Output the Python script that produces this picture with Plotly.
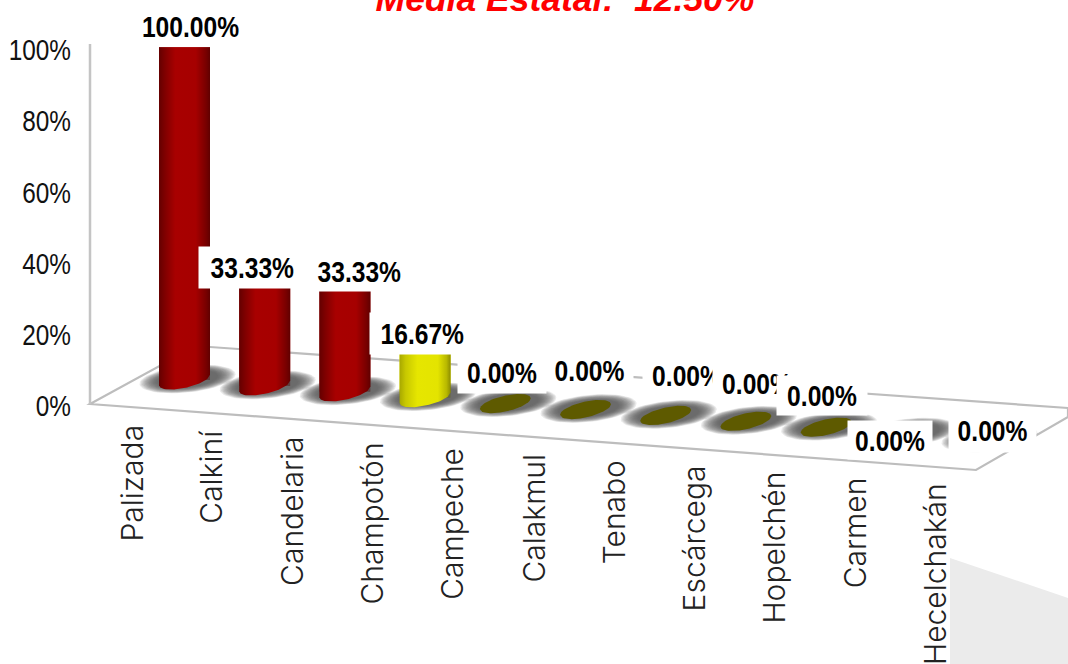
import numpy as np
import plotly.graph_objects as go

# ---- data ----
categories = ["Palizada", "Calkiní", "Candelaria", "Champotón", "Campeche", "Calakmul",
              "Tenabo", "Escárcega", "Hopelchén", "Carmen", "Hecelchakán"]
values = [100.0, 33.33, 33.33, 16.67, 0, 0, 0, 0, 0, 0, 0]
y_ticks = [0, 20, 40, 60, 80, 100]
title_text = "<b><i>Media Estatal:  12.50%</i></b>"

# ---- styles and layout (separate from data) ----
W, H = 1068, 664
SANS = "Liberation Sans, Arial, sans-serif"
X0_PX, X_STEP = 184.5, 80.2     # pixel of first category, pixels per category
Y0_PX, Y_STEP = 406.0, 3.56     # pixel of 0 %, pixels per percent
FLOOR0_PX, FLOOR_STEP = 380.0, 5.9   # perspective drop of the chart floor
BAR_SCALE = 0.935               # bars are foreshortened against the back wall scale
A_PX, B_PX, TILT = 25.5, 8.0, 0.21
LEFT = 90

ramps = {
    "red": [[0, "#640000"], [0.12, "#800000"], [0.32, "#a80000"], [0.72, "#a60000"], [0.92, "#780000"], [1, "#600000"]],
    "yellow": [[0, "#a8a800"], [0.12, "#c8c800"], [0.35, "#e6e600"], [0.75, "#e4e400"], [0.92, "#b8b800"], [1, "#8c8c00"]],
}
OLIVE = "#5e5a00"
# label boxes: left, right, top, bottom, alignment (pixels of the white label backgrounds)
label_boxes = [
    (140, 241, 8, 45, "center"), (199, 294, 247, 288, "right"), (301, 401, 251, 291, "right"),
    (370, 464, 313, 354, "right"), (458, 546, 352, 393, "center"), (546, 633, 350, 390, "center"),
    (643, 731, 355, 395, "center"), (713, 801, 363, 403, "center"), (777, 867, 376, 415, "center"),
    (848, 932, 421, 459, "center"), (949, 1036, 408, 452, "center"),
]

def dx(px):
    return (px - X0_PX) / X_STEP

def dy(px):
    return (Y0_PX - px) / Y_STEP

def floor_px(i):
    return FLOOR0_PX + FLOOR_STEP * i

def pth(points):
    return "M" + " L".join(f"{(x-LEFT)/(W-LEFT):.5f},{1-y/H:.5f}" for x, y in points) + " Z"

def paper_shape(points, **kw):
    return dict(type="path", xref="paper", yref="paper", path=pth(points), layer="below", **kw)

fig = go.Figure()

# blurred floor shadows
t = np.linspace(0, 2 * np.pi, 60)
for i in range(len(categories)):
    for k in range(14):
        a = 48 - k * 1.35
        b = 13.5 - k * 0.4
        xs = i + (a * np.cos(t) + 3) / X_STEP
        ys = dy(floor_px(i) - 1 + b * np.sin(t) - 0.1 * a * np.cos(t))
        fig.add_trace(go.Scatter(x=xs, y=ys, mode="lines", fill="toself", line_width=0,
                                 fillcolor="rgba(85,85,85,0.12)", hoverinfo="skip", showlegend=False))

# the bars themselves
bar_colors = ["#a80000" if v > 20 else "#e6e600" if v > 0 else OLIVE for v in values]
fig.add_trace(go.Bar(x=list(range(len(values))),
                     y=[v * BAR_SCALE for v in values],
                     base=[dy(floor_px(i)) for i in range(len(values))],
                     width=2 * A_PX / X_STEP,
                     marker=dict(color=bar_colors, line_width=0),
                     customdata=values, hovertext=categories,
                     hovertemplate="%{hovertext}: %{customdata:.2f}%<extra></extra>",
                     showlegend=False))

# cylinder shading and round feet
u = np.linspace(-1, 1, 41)
for i, v in enumerate(values):
    foot = dy(floor_px(i) + B_PX * np.sqrt(1 - u ** 2) - TILT * A_PX * u)
    xs = i + u * A_PX / X_STEP
    if v > 0:
        top = dy(floor_px(i)) + v * BAR_SCALE
        px = np.r_[xs[0], xs[-1], xs[::-1]]
        py = np.r_[top, top, foot[::-1]]
        fig.add_trace(go.Scatter(x=px, y=py, mode="lines", fill="toself", line_width=0,
                                 fillgradient=dict(type="horizontal",
                                                   colorscale=ramps["red" if v > 20 else "yellow"]),
                                 hoverinfo="skip", showlegend=False))
    else:
        upper = dy(floor_px(i) - B_PX * np.sqrt(1 - u ** 2) - TILT * A_PX * u)
        fig.add_trace(go.Scatter(x=np.r_[xs, xs[::-1]], y=np.r_[foot, upper[::-1]], mode="lines",
                                 fill="toself", line_width=0, fillcolor=OLIVE,
                                 hoverinfo="skip", showlegend=False))

annotations = []
# category labels following the front edge of the floor
for i, name in enumerate(categories):
    annotations.append(dict(x=dx(131 + 80.4 * i), y=dy(423 + 5.8 * i), xref="x", yref="y", text=name,
                            textangle=-90, xanchor="center", yanchor="top", showarrow=False,
                            font=dict(family="Inter, Lato, sans-serif", size=30, weight=300, color="#222222")))
# value labels with their white boxes
for v, (l, r, tp, bt, al) in zip(values, label_boxes):
    annotations.append(dict(x=dx((l + r) / 2), y=dy((tp + bt) / 2), xref="x", yref="y",
                            text=f"{v:.2f}%", width=r - l, height=bt - tp, align=al, valign="middle",
                            bgcolor="white", showarrow=False, borderpad=0,
                            xanchor="center", yanchor="middle",
                            font=dict(family=SANS, size=30, weight=700, color="black")))

shapes = [
    paper_shape([(950, 558), (1068, 598), (1068, 664), (950, 664)], fillcolor="#ebebeb", line_width=0),
    paper_shape([(90, 404), (196, 346), (1068, 408), (1068, 417), (976, 470)], fillcolor="white",
                line=dict(color="#bdbdbd", width=2.2)),
    dict(type="line", xref="paper", yref="paper", x0=0, x1=0, y0=1 - 404 / H, y1=1 - 44 / H,
         layer="below", line=dict(color="#c4c4c4", width=2.5)),
]

fig.update_layout(
    width=W, height=H, margin=dict(l=LEFT, r=0, t=0, b=0, autoexpand=False),
    paper_bgcolor="white", plot_bgcolor="rgba(0,0,0,0)", autosize=False, showlegend=False,
    title=dict(text=title_text, x=565 / W, xanchor="center", xref="container", yref="container",
               y=1 - 11 / H, yanchor="bottom",
               font=dict(family=SANS, size=35.5, color="#ff0000")),
    xaxis=dict(range=[dx(LEFT), dx(W)], visible=False, fixedrange=True),
    yaxis=dict(range=[dy(H), dy(0)], tickvals=y_ticks, ticktext=[f"{v}%" for v in y_ticks],
               showgrid=False, zeroline=False, showline=False, ticks="", ticklabelstandoff=18,
               automargin=False,
               tickfont=dict(family=SANS, size=29, color="#111111"), fixedrange=True),
    annotations=annotations, shapes=shapes,
)
# page margin off; the reference's percent labels are set in a narrow face, so condense those texts
post = """
document.body.style.margin = '0';
document.documentElement.style.overflow = 'hidden';
function squeeze(t, f) {
  t.setAttribute('textLength', t.getComputedTextLength() * f);
  t.setAttribute('lengthAdjust', 'spacingAndGlyphs');
}
document.querySelectorAll('.annotation-text').forEach(function (t) {
  if (t.textContent.endsWith('%')) squeeze(t, 0.82);
});
document.querySelectorAll('.ytick text').forEach(function (t) { squeeze(t, 0.84); });
"""
fig.write_html("out.html", post_script=post, config=dict(displayModeBar=False))
